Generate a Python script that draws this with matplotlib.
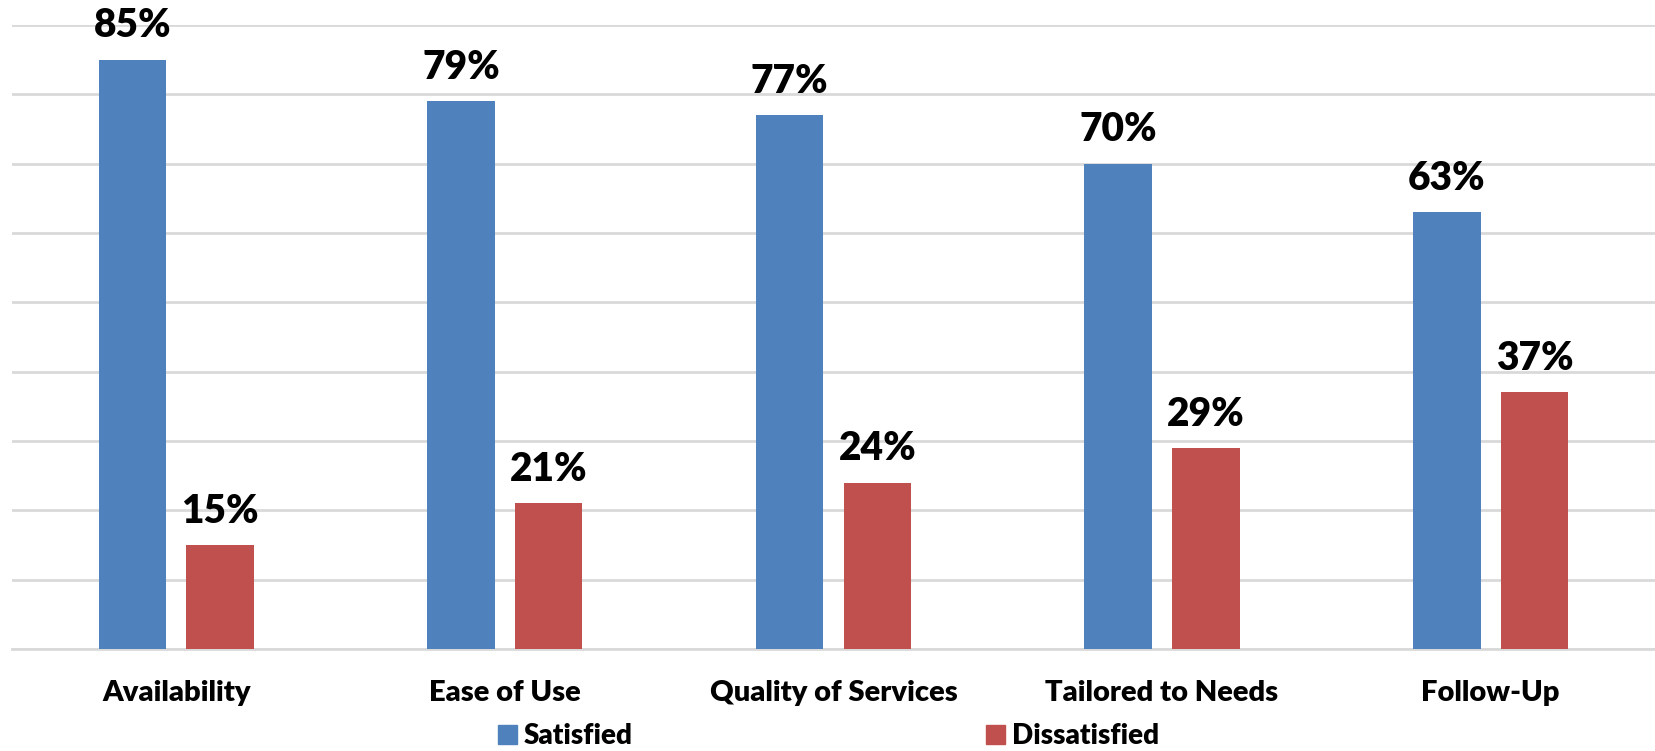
import matplotlib
import matplotlib.pyplot as plt
from matplotlib.patches import Patch
import numpy as np

matplotlib.use("Agg")
plt.rcParams["font.family"] = ["Lato", "DejaVu Sans"]
plt.rcParams["font.weight"] = "bold"

categories = ["Availability", "Ease of Use", "Quality of Services",
              "Tailored to Needs", "Follow-Up"]
satisfied = [85, 79, 77, 70, 63]
dissatisfied = [15, 21, 24, 29, 37]
series_names = ["Satisfied", "Dissatisfied"]

BLUE = "#4F81BD"
RED = "#C0504D"
GRID = "#D9D9D9"

fig = plt.figure(figsize=(16.55, 7.51), dpi=100)
ax = fig.add_axes([0.00725, 0.1358, 0.9927, 0.8309])

x = np.arange(len(categories))
w = 0.2056
off = 0.1334

bars_s = ax.bar(x - off, satisfied, w, color=BLUE, zorder=3)
bars_d = ax.bar(x + off, dissatisfied, w, color=RED, zorder=3)

# value labels above each bar
for bars, vals in [(bars_s, satisfied), (bars_d, dissatisfied)]:
    for b, v in zip(bars, vals):
        ax.annotate(f"{v}%", (b.get_x() + b.get_width() / 2, v),
                    xytext=(0, 16), textcoords="offset points",
                    ha="center", va="baseline", fontsize=28,
                    fontweight="heavy", color="black",
                    annotation_clip=False, zorder=4)

ax.set_xlim(-0.5, 4.5)
ax.set_ylim(0, 90)
ax.set_yticks(np.arange(0, 91, 10))
ax.yaxis.grid(True, color=GRID, linewidth=2, zorder=0)
ax.tick_params(axis="y", left=False, labelleft=False)
ax.tick_params(axis="x", bottom=False, pad=19)
ax.set_xticks(x)
ax.set_xticklabels(categories, fontsize=21, fontweight="heavy")

for side in ["top", "right", "left"]:
    ax.spines[side].set_visible(False)
ax.spines["bottom"].set_color(GRID)
ax.spines["bottom"].set_linewidth(2)

handles = [Patch(color=BLUE), Patch(color=RED)]
fig.legend(handles, series_names, loc="lower center",
           bbox_to_anchor=(0.5006, 0.002),
           ncol=2, frameon=False, prop={"size": 20, "weight": "heavy"},
           handlelength=0.7, handleheight=0.7, handletextpad=0.25,
           columnspacing=12.7, borderaxespad=0, borderpad=0)

fig.savefig("out.png", dpi=100)
